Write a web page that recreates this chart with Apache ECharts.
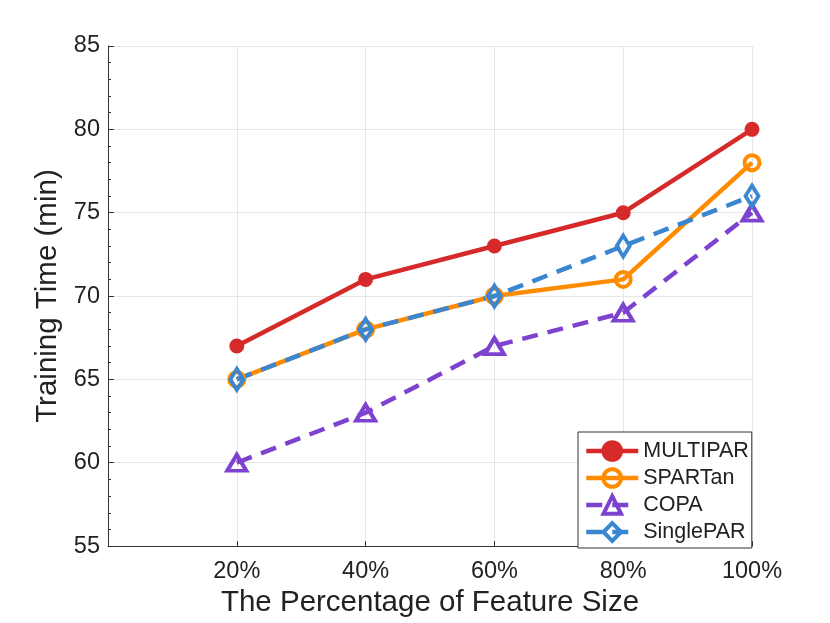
<!DOCTYPE html>
<html>
<head>
<meta charset="utf-8">
<script src="https://cdn.jsdelivr.net/npm/echarts@6/dist/echarts.min.js"></script>
<style>
  html, body { margin: 0; padding: 0; background: #fff; }
  #main { width: 830px; height: 623px; }
</style>
</head>
<body>
<div id="main"></div>
<script>
var featurePct = [20, 40, 60, 80, 100];
var multipar = [67, 71, 73, 75, 80];
var spartan = [65, 68, 70, 71, 78];
var copa = [60, 63, 67, 69, 75];
var singlepar = [65, 68, 70, 73, 76];

function pairs(vals) {
  return vals.map(function (v, i) { return [featurePct[i], v]; });
}

var FONT = 'Liberation Sans';
var chart = echarts.init(document.getElementById('main'));

function series(name, vals, color, symbol, size, dashed, filled) {
  return {
    name: name,
    type: 'line',
    data: pairs(vals),
    symbol: symbol,
    symbolSize: size,
    showAllSymbol: true,
    lineStyle: { color: color, width: 4.5, type: dashed ? [16, 10] : 'solid' },
    itemStyle: { color: filled ? color : 'rgba(255,255,255,0)', borderColor: color, borderWidth: 4 },
    emphasis: { disabled: true }
  };
}

var option = {
  animation: false,
  textStyle: { fontFamily: FONT },
  grid: { left: 108, right: 78, top: 46, bottom: 74 },
  legend: {
    orient: 'vertical',
    left: 578, top: 432,
    padding: [8, 3, 5, 6],
    itemGap: 5,
    itemWidth: 52, itemHeight: 22,
    backgroundColor: '#fff',
    borderColor: '#333', borderWidth: 1,
    lineStyle: { width: 4.5 },
    itemStyle: { borderWidth: 4 },
    textStyle: { fontFamily: FONT, fontSize: 21.5, color: '#222' },
    data: ['MULTIPAR', 'SPARTan', 'COPA', 'SinglePAR']
  },
  xAxis: {
    type: 'value',
    min: 0, max: 100, interval: 20,
    name: 'The Percentage of Feature Size',
    nameLocation: 'middle', nameGap: 40,
    nameTextStyle: { fontFamily: FONT, fontSize: 29.5, color: '#222' },
    axisLine: { show: true, lineStyle: { color: '#333', width: 1 } },
    axisTick: { show: true, inside: true, length: 5, lineStyle: { color: '#333' } },
    axisLabel: {
      fontFamily: FONT, fontSize: 23.5, color: '#222', margin: 13,
      formatter: function (v) { return v === 0 ? '' : v + '%'; }
    },
    splitLine: { show: true, lineStyle: { color: '#e6e6e6', width: 1 } }
  },
  yAxis: {
    type: 'value',
    min: 55, max: 85, interval: 5,
    name: 'Training Time (min)',
    nameLocation: 'middle', nameGap: 40,
    nameTextStyle: { fontFamily: FONT, fontSize: 29.5, color: '#222' },
    axisLine: { show: true, lineStyle: { color: '#333', width: 1 } },
    axisTick: { show: true, inside: true, length: 6, lineStyle: { color: '#333' } },
    minorTick: { show: true, splitNumber: 5, length: 3, lineStyle: { color: '#333' } },
    axisLabel: { fontFamily: FONT, fontSize: 23.5, color: '#222', margin: 8 },
    splitLine: { show: true, lineStyle: { color: '#e6e6e6', width: 1 } }
  },
  series: [
    series('MULTIPAR', multipar, '#d62a2a', 'circle', 11, false, true),
    series('SPARTan', spartan, '#ff8c00', 'circle', 15, false, false),
    series('COPA', copa, '#7d42d0', 'triangle', [19, 16], true, false),
    series('SinglePAR', singlepar, '#3a86d0', 'diamond', [13, 21], true, false)
  ]
};
chart.setOption(option);
</script>
</body>
</html>
